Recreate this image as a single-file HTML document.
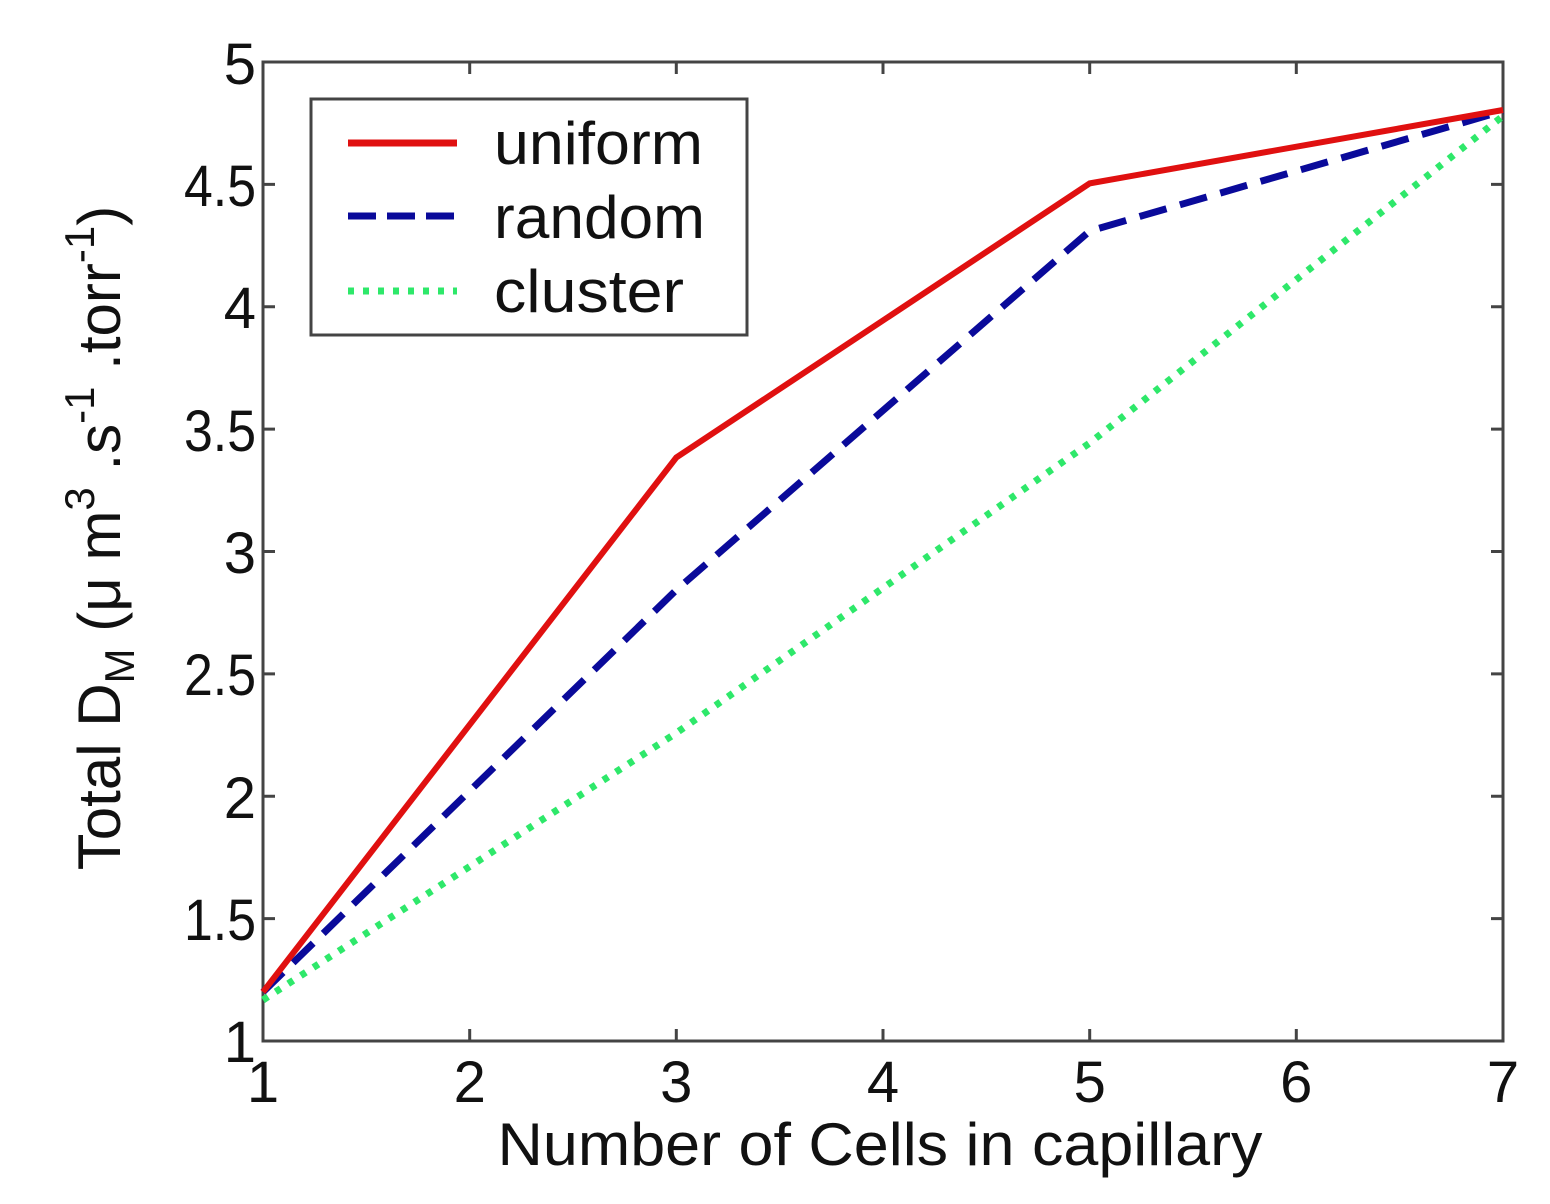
<!DOCTYPE html>
<html><head><meta charset="utf-8"><style>html,body{margin:0;padding:0;background:#fff}svg{display:block}</style></head>
<body>
<svg width="1550" height="1204" viewBox="0 0 1550 1204" xmlns="http://www.w3.org/2000/svg" font-family="Liberation Sans, sans-serif">
<rect width="1550" height="1204" fill="#fff"/>
<g stroke="#444" stroke-width="3" fill="none">
<rect x="263" y="62" width="1240" height="979"/>
<path d="M469.7,1041v-12M676.3,1041v-12M883,1041v-12M1089.7,1041v-12M1296.3,1041v-12M469.7,62v12M676.3,62v12M883,62v12M1089.7,62v12M1296.3,62v12"/>
<path d="M263,918.6h12M263,796.2h12M263,673.9h12M263,551.5h12M263,429.1h12M263,306.8h12M263,184.4h12M1503,918.6h-12M1503,796.2h-12M1503,673.9h-12M1503,551.5h-12M1503,429.1h-12M1503,306.8h-12M1503,184.4h-12"/>
</g>
<g font-size="58" fill="#111" text-anchor="end">
<text x="256" y="1062">1</text><text x="256" y="940" textLength="72" lengthAdjust="spacingAndGlyphs">1.5</text><text x="256" y="818">2</text><text x="256" y="695" textLength="72" lengthAdjust="spacingAndGlyphs">2.5</text><text x="256" y="573">3</text><text x="256" y="451" textLength="72" lengthAdjust="spacingAndGlyphs">3.5</text><text x="256" y="328">4</text><text x="256" y="206" textLength="72" lengthAdjust="spacingAndGlyphs">4.5</text><text x="256" y="84">5</text>
</g>
<g font-size="58" fill="#111" text-anchor="middle">
<text x="263" y="1102">1</text><text x="469.7" y="1102">2</text><text x="676.3" y="1102">3</text><text x="883" y="1102">4</text><text x="1089.7" y="1102">5</text><text x="1296.3" y="1102">6</text><text x="1503" y="1102">7</text>
<text x="880" y="1165" font-size="60" textLength="765" lengthAdjust="spacingAndGlyphs">Number of Cells in capillary</text>
</g>
<text transform="translate(120,538) rotate(-90)" font-size="60" fill="#111" text-anchor="middle">Total D<tspan font-size="42" dy="14">M</tspan><tspan dy="-14"> (μ m</tspan><tspan font-size="42" dy="-26">3</tspan><tspan dy="26"> .s</tspan><tspan font-size="42" dy="-26">-1</tspan><tspan dy="26"> .torr</tspan><tspan font-size="42" dy="-26">-1</tspan><tspan dy="26">)</tspan></text>
<polyline points="263,1000 676.3,733 1089.7,443 1503,116" fill="none" stroke="#2ee86a" stroke-width="7" stroke-dasharray="6,9"/>
<polyline points="263,992 676.3,590 1089.7,231 1503,111" fill="none" stroke="#0a0a9a" stroke-width="7" stroke-dasharray="28,14"/>
<polyline points="263,992 676.3,457.5 1089.7,183.4 1503,110" fill="none" stroke="#e01010" stroke-width="6"/>
<rect x="311" y="99" width="436" height="236" fill="#fff" stroke="#444" stroke-width="3"/>
<line x1="348" y1="143" x2="457" y2="143" stroke="#e01010" stroke-width="7"/>
<line x1="348" y1="216" x2="457" y2="216" stroke="#0a0a9a" stroke-width="7" stroke-dasharray="28,11"/>
<line x1="348" y1="291" x2="457" y2="291" stroke="#2ee86a" stroke-width="7" stroke-dasharray="6,9"/>
<g font-size="60" fill="#111"><text x="494" y="164" textLength="209" lengthAdjust="spacingAndGlyphs">uniform</text><text x="494" y="238" textLength="211" lengthAdjust="spacingAndGlyphs">random</text><text x="494" y="312" textLength="190" lengthAdjust="spacingAndGlyphs">cluster</text></g>
</svg>
</body></html>
